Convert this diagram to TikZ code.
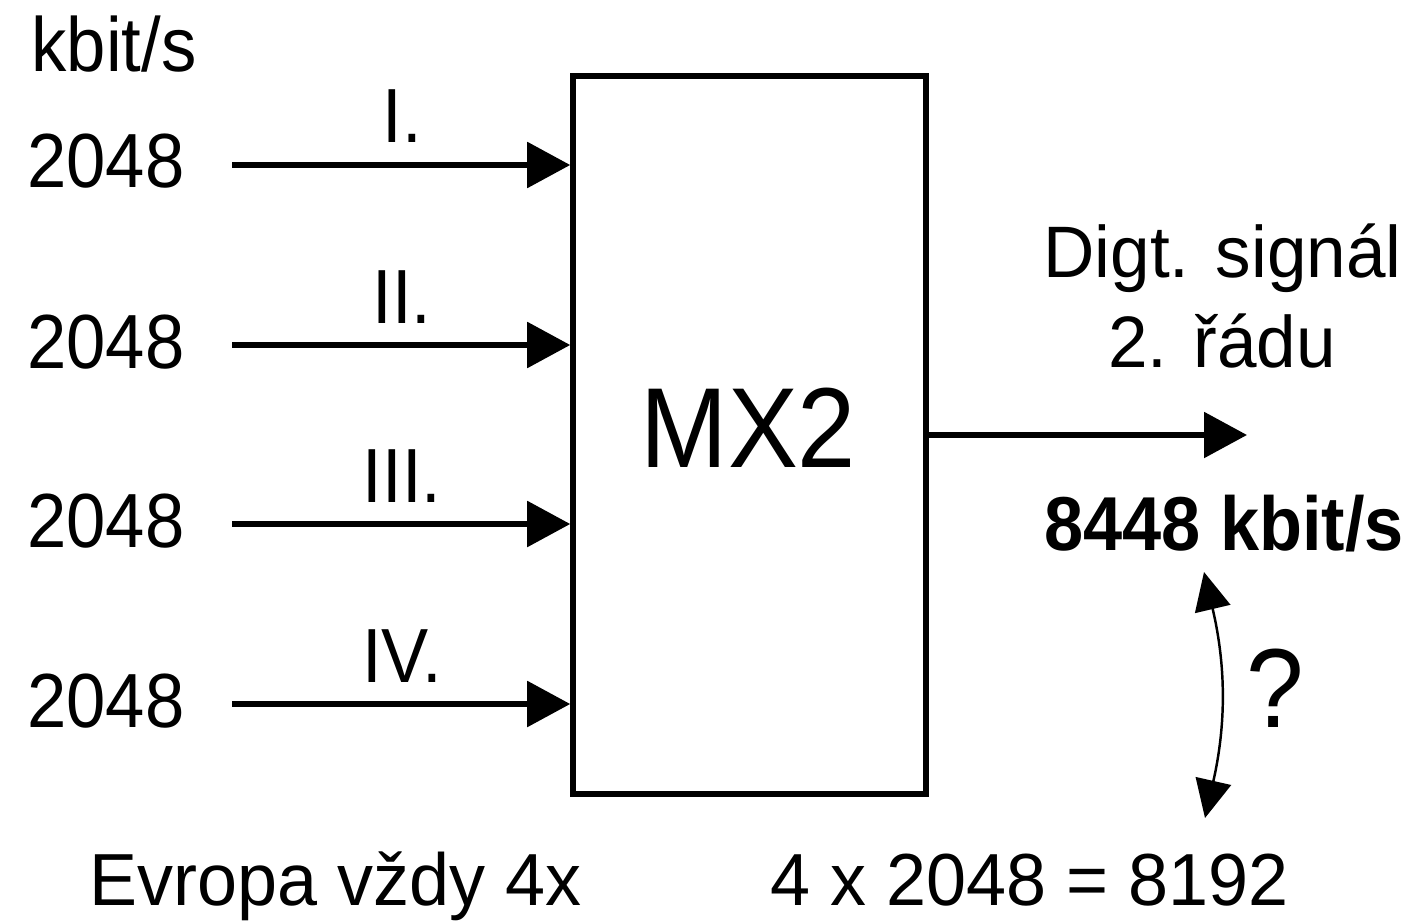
\documentclass[tikz,border=0pt]{standalone}
\usepackage{fontspec}
\setmainfont{Liberation Sans}[FakeStretch=0.92]
\newfontfamily\widefont{Liberation Sans}[FakeStretch=0.975]
\usetikzlibrary{arrows.meta}

\begin{document}
\begin{tikzpicture}[x=0.02cm, y=-0.02cm,
  >={Triangle[length=0.86cm, width=0.9cm]},
  txt/.style={anchor=base, inner sep=0pt, font=\fontsize{43.7}{50}\selectfont},
  flow/.style={->, line width=3.2pt}]

\useasboundingbox (0,0) rectangle (1416,922);

% ----------------------------
% PARAMETERS
% ----------------------------
\def\xin{232}     % start of input lines
\def\xlab{106}    % centre of rate labels
\def\xnum{402}    % centre of channel numbers
\def\xout{1247}   % tip of output arrow

% ----------------------------
% MULTIPLEXER BOX
% ----------------------------
\node[draw, line width=3.2pt, minimum width=7.06cm, minimum height=14.36cm,
      inner sep=0pt] (mx) at (749.5,435) {};
\node[txt, font=\fontsize{64.8}{70}\selectfont] (mxname) at (748.5,467) {MX2};

% ----------------------------
% INPUT TRIBUTARIES
% ----------------------------
\node[txt] (unit) at (114,72) {kbit/s};

\foreach \y/\n [count=\i] in {165/I., 345/II., 524/III., 704/IV.} {
  \coordinate (in\i) at (\xin,\y);
  \node[txt] (rate\i) at (\xlab,\y+23) {2048};
  \node[txt] (ch\i) at (\xnum,\y-22) {\n};
  \draw[flow] (in\i) -- (in\i -| mx.west);
}

% ----------------------------
% OUTPUT SIGNAL
% ----------------------------
\coordinate (out) at (\xout,435);
\draw[flow] (mx.east) -- (out);

\node[txt, font=\widefont\fontsize{41.5}{48}\selectfont] (sig1) at (1222.5,277) {Digt. signál};
\node[txt, font=\widefont\fontsize{41.5}{48}\selectfont] (sig2) at (1222,367) {2. řádu};
\node[txt, font=\bfseries\fontsize{43.5}{50}\selectfont] (outrate) at (1224,550) {8448 kbit/s};

% ----------------------------
% COMPARISON
% ----------------------------
\coordinate (qtop) at (1204,572);
\coordinate (qbot) at (1205,818);
\draw[<->, line width=1.4pt, >={Triangle[length=0.76cm, width=0.72cm]}]
  (qtop) to[bend left=13] (qbot);
\node[txt, font=\fontsize{64}{70}\selectfont] (quest) at (1275,727) {?};

% ----------------------------
% BOTTOM NOTES
% ----------------------------
\node[txt, font=\widefont\fontsize{42}{48}\selectfont] (note1) at (335.5,905) {Evropa vždy 4x};
\node[txt, font=\widefont\fontsize{42}{48}\selectfont] (note2) at (1030,905) {4 x 2048 = 8192};

\end{tikzpicture}
\end{document}
